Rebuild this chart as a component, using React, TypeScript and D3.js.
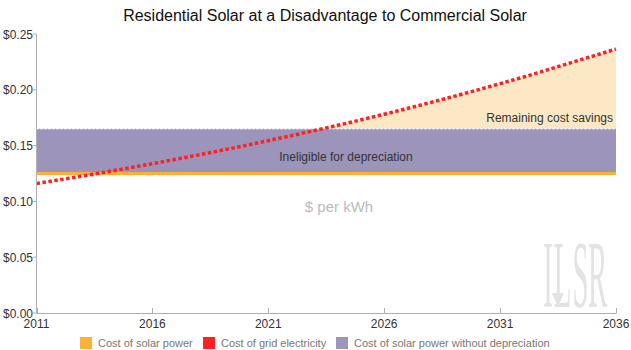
import React from "react";
import * as d3 from "d3";

const years = [2011,2012,2013,2014,2015,2016,2017,2018,2019,2020,2021,2022,2023,2024,2025,2026,2027,2028,2029,2030,2031,2032,2033,2034,2035,2036];
const gridCost = [0.116,0.1194,0.1228,0.1264,0.13,0.1338,0.1377,0.1417,0.1458,0.15,0.1544,0.1589,0.1635,0.1682,0.1731,0.1781,0.1833,0.1886,0.1941,0.1997,0.2055,0.2114,0.2176,0.2239,0.2302,0.2365];
const solarCost = years.map(() => 0.125);
const solarNoDep = years.map(() => 0.165);
const xTicks = [2011, 2016, 2021, 2026, 2031, 2036];
const yTicks = [0, 0.05, 0.1, 0.15, 0.2, 0.25];
const legendItems = ["Cost of solar power", "Cost of grid electricity", "Cost of solar power without depreciation"];
const legendColors = ["#fbb13c", "#ff2121", "#9c94bb"];
const logoLetters = ["I", "L", "S", "R"];

const W = 631, H = 350;
const FONT = "'Liberation Sans', Arial, Helvetica, sans-serif";

export default function App() {
  const x = d3.scaleLinear().domain([2011, 2036]).range([36.5, 616]);
  const y = d3.scaleLinear().domain([0, 0.25]).range([313, 34]);
  const idx = years.map((_, i) => i);

  const purpleArea = d3.area<number>().x(i => x(years[i])).y0(i => y(solarCost[i])).y1(i => y(solarNoDep[i]))(idx);
  const peachArea = d3.area<number>()
    .x(i => x(years[i]))
    .y0(i => y(solarNoDep[i]))
    .y1(i => y(Math.max(gridCost[i], solarNoDep[i])))(idx);
  const gridLine = d3.line<number>().x(i => x(years[i])).y(i => y(gridCost[i])).curve(d3.curveMonotoneX)(idx);
  const solarLine = d3.line<number>().x(i => x(years[i])).y(i => y(solarCost[i]))(idx);
  const topLine = d3.line<number>().x(i => x(years[i])).y(i => y(solarNoDep[i]))(idx);

  const fmt = d3.format("$.2f");
  const legendX = [80, 203, 336];
  const logoX = [548, 562.5, 580.5, 597.5];

  return (
    <svg width={W} height={H} style={{ position: "absolute", left: 0, top: 0, fontFamily: FONT }}>
      <rect width={W} height={H} fill="#fff" />
      <text x={325} y={21} textAnchor="middle" fontSize={16} fill="#111">Residential Solar at a Disadvantage to Commercial Solar</text>

      {/* ILSR logo */}
      <g fill="#e3e3e3" fontFamily="'Liberation Serif', 'DejaVu Serif', serif" fontSize={96}>
        {logoLetters.map((l, i) => (
          <text key={l} x={0} y={0} textAnchor="middle" transform={`translate(${logoX[i]},307) scale(0.3,1)`}>{l}</text>
        ))}
        <polygon points="552,293 564,293 558,307" />
      </g>

      <path d={peachArea || ""} fill="#fde8c5" />
      <path d={purpleArea || ""} fill="#9c94bb" />
      <path d={topLine || ""} fill="none" stroke="#fff" strokeWidth={1.5} strokeDasharray="2,2" opacity={0.9} />
      <path d={solarLine || ""} fill="none" stroke="#fbb13c" strokeWidth={3} />
      <path d={gridLine || ""} fill="none" stroke="#ff2121" strokeWidth={3.5} strokeDasharray="3.5,2.5" />

      {/* axes */}
      <line x1={36.5} x2={36.5} y1={34} y2={313} stroke="#b0b0b0" />
      <line x1={36.5} x2={616} y1={313.5} y2={313.5} stroke="#b0b0b0" />
      {yTicks.map(t => (
        <g key={t}>
          <line x1={33} x2={36.5} y1={y(t)} y2={y(t)} stroke="#b0b0b0" />
          <text x={33} y={y(t) + 4.5} textAnchor="end" fontSize={12} fill="#333">{fmt(t)}</text>
        </g>
      ))}
      {xTicks.map(t => (
        <g key={t}>
          <line x1={Math.round(x(t)) + 0.5} x2={Math.round(x(t)) + 0.5} y1={308} y2={313.5} stroke="#b0b0b0" />
          <text x={x(t)} y={328} textAnchor="middle" fontSize={12} fill="#333">{t}</text>
        </g>
      ))}

      <text x={346} y={160.5} textAnchor="middle" fontSize={12} fill="#333">Ineligible for depreciation</text>
      <text x={613} y={122} textAnchor="end" fontSize={12} fill="#333">Remaining cost savings</text>
      <text x={339} y={212} textAnchor="middle" fontSize={15} fill="#bbb">$ per kWh</text>

      {legendItems.map((name, i) => (
        <g key={name}>
          <rect x={legendX[i]} y={337} width={12} height={12} fill={legendColors[i]} />
          <text x={legendX[i] + 18} y={347} fontSize={11} fill="#777">{name}</text>
        </g>
      ))}
    </svg>
  );
}
